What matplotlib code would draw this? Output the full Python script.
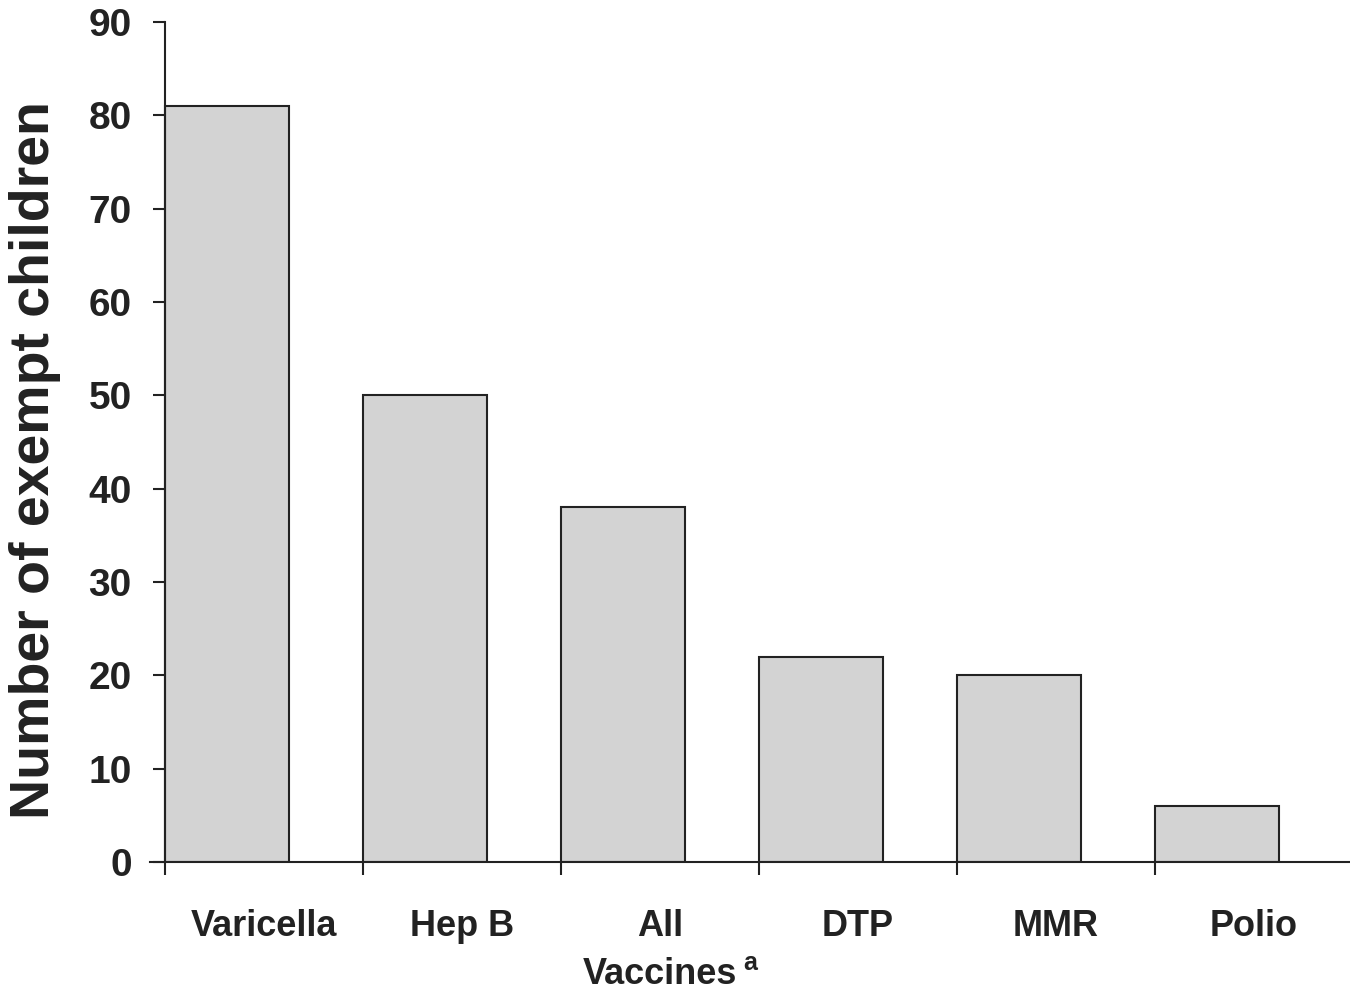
import matplotlib
matplotlib.use("Agg")
import matplotlib.pyplot as plt
import numpy as np

plt.rcParams['font.family'] = ['Liberation Sans', 'DejaVu Sans']
plt.rcParams['font.weight'] = 'bold'

vaccines = ['Varicella', 'Hep B', 'All', 'DTP', 'MMR', 'Polio']
exempt = [81, 50, 38, 22, 20, 6]

ink = '#222222'
fig = plt.figure(figsize=(13.5, 9.92), dpi=100)
ax = fig.add_axes([150 / 1350, 1 - 862 / 992, 1200 / 1350, 840 / 992])

x = np.arange(len(vaccines))
ax.bar(x, exempt, width=0.625, align='edge', color='#d3d3d3',
       edgecolor=ink, linewidth=1.5)

ax.set_xlim(-0.076, 5.985)
ax.set_ylim(0, 90)
ax.spines['left'].set_position(('data', 0))
ax.spines['top'].set_visible(False)
ax.spines['right'].set_visible(False)
for s in ['left', 'bottom']:
    ax.spines[s].set_color(ink)
    ax.spines[s].set_linewidth(1.5)

ax.set_yticks(range(0, 91, 10))
ax.set_xticks(x)
ax.set_xticklabels([])
ax.tick_params(axis='y', direction='out', length=9, width=1.5, color=ink,
               labelsize=28, labelcolor=ink, pad=15)
ax.tick_params(axis='x', direction='out', length=9, width=1.5, color=ink)
for lbl in ax.get_yticklabels():
    lbl.set_fontweight('bold')

# category names sit in the middle of each slot
for i, name in enumerate(vaccines):
    ax.text(i + 0.5, -6.9, name, ha='center', va='center', fontsize=26,
            fontweight='bold', color=ink)

fig.text(35 / 1350, 1 - 460 / 992, 'Number of exempt children', rotation=90,
         ha='center', va='center', fontsize=40, fontweight='bold', color=ink)
fig.text(660 / 1350, 1 - 975 / 992, 'Vaccines', ha='center', va='center',
         fontsize=26, fontweight='bold', color=ink)
fig.text(750 / 1350, 1 - 963 / 992, 'a', ha='center', va='center',
         fontsize=18, fontweight='bold', color=ink)

fig.savefig('out.png', dpi=100)
